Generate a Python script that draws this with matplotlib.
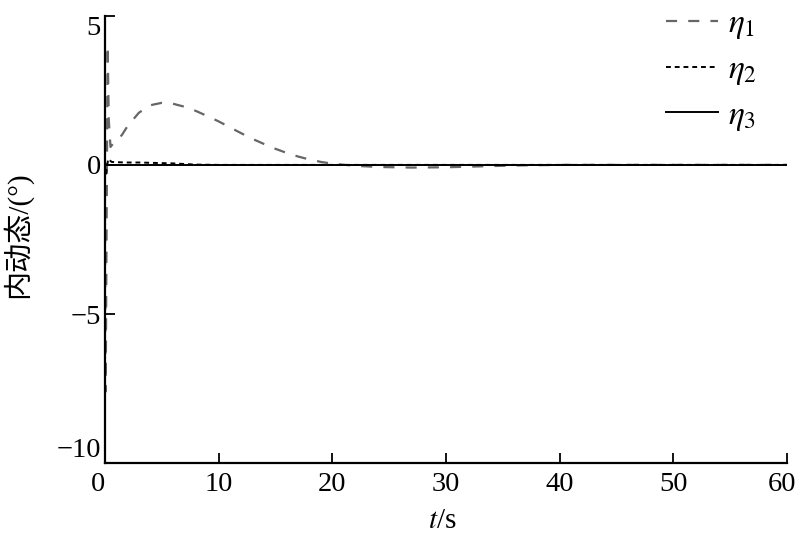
import numpy as np
import matplotlib
matplotlib.use('Agg')
import matplotlib.pyplot as plt
import matplotlib.transforms as mtransforms

plt.rcParams['font.family'] = ['Liberation Serif', 'Noto Sans CJK SC']
plt.rcParams['mathtext.fontset'] = 'stix'

# ── data ────────────────────────────────────────────────────────────────────
t1 = [0, 0.08, 0.16, 0.25, 0.35, 0.5, 0.7, 1.0, 1.5, 2, 3, 4, 5, 6, 7, 8, 9, 10,
      11, 12, 13, 14, 15, 16, 17, 18, 19, 20, 22, 24, 27, 30, 33, 36, 40, 60]
eta1 = [0, -7.6, -2.0, 4.0, 1.5, 0.6, 0.7, 0.8, 1.0, 1.3, 1.75, 2.0, 2.08, 2.05,
        1.95, 1.81, 1.64, 1.46, 1.26, 1.06, 0.87, 0.70, 0.54, 0.40, 0.28, 0.18,
        0.10, 0.04, -0.03, -0.07, -0.09, -0.08, -0.05, -0.02, 0, 0]

t2 = [0, 0.1, 0.3, 0.6, 1, 2, 3, 4, 5, 6, 7, 8, 10, 60]
eta2 = [0, -0.3, 0.2, 0.1, 0.09, 0.08, 0.08, 0.07, 0.06, 0.05, 0.03, 0.01, 0, 0]

t3 = [0, 60]
eta3 = [0, 0]

xticks = [0, 10, 20, 30, 40, 50, 60]
yticks = [-10, -5, 0, 5]

fig = plt.figure(figsize=(8, 5.43), dpi=100)
ax = fig.add_axes([0.131, 0.147, 0.853, 0.824])

ax.plot(t1, eta1, color='#666666', lw=1.6, ls=(0, (5, 5)), label=r'$\eta_1$')
ax.plot(t2, eta2, color='black', lw=1.4, ls=(0, (2.5, 2)), label=r'$\eta_2$')
ax.plot(t3, eta3, color='black', lw=1.4, label=r'$\eta_3$')

ax.set_xlim(0, 60)
ax.set_ylim(-10, 5)
ax.set_xticks(xticks)
ax.set_yticks(yticks)
ax.set_yticklabels(['\u221210', '\u22125', '0', '5'])
ax.tick_params(direction='in', length=7, width=1.3, labelsize=20.5)
ax.tick_params(axis='x', pad=6)
ax.tick_params(axis='y', pad=3)
# label placement quirks of the original figure
ylabs = ax.get_yticklabels()
ylabs[0].set_va('bottom')
ylabs[-1].set_va('top')
xlabs = ax.get_xticklabels()
xlabs[0].set_ha('right')
xlabs[-1].set_transform(xlabs[-1].get_transform() +
                        mtransforms.ScaledTranslation(-4 / 72, 0, fig.dpi_scale_trans))
for s in ['top', 'right']:
    ax.spines[s].set_visible(False)
for s in ['left', 'bottom']:
    ax.spines[s].set_linewidth(1.6)

ax.set_xlabel(r'$t$/s', fontsize=21)
ax.xaxis.set_label_coords(0.495, -0.1)
ax.set_ylabel('内动态/(°)', fontsize=21)
ax.yaxis.set_label_coords(-0.106, 0.51)

ax.legend(loc='upper right', frameon=False, fontsize=24, handlelength=1.55,
          handletextpad=0.3, labelspacing=0.4, borderaxespad=0.0,
          bbox_to_anchor=(0.975, 1.045))

fig.savefig('out.png', dpi=100)
